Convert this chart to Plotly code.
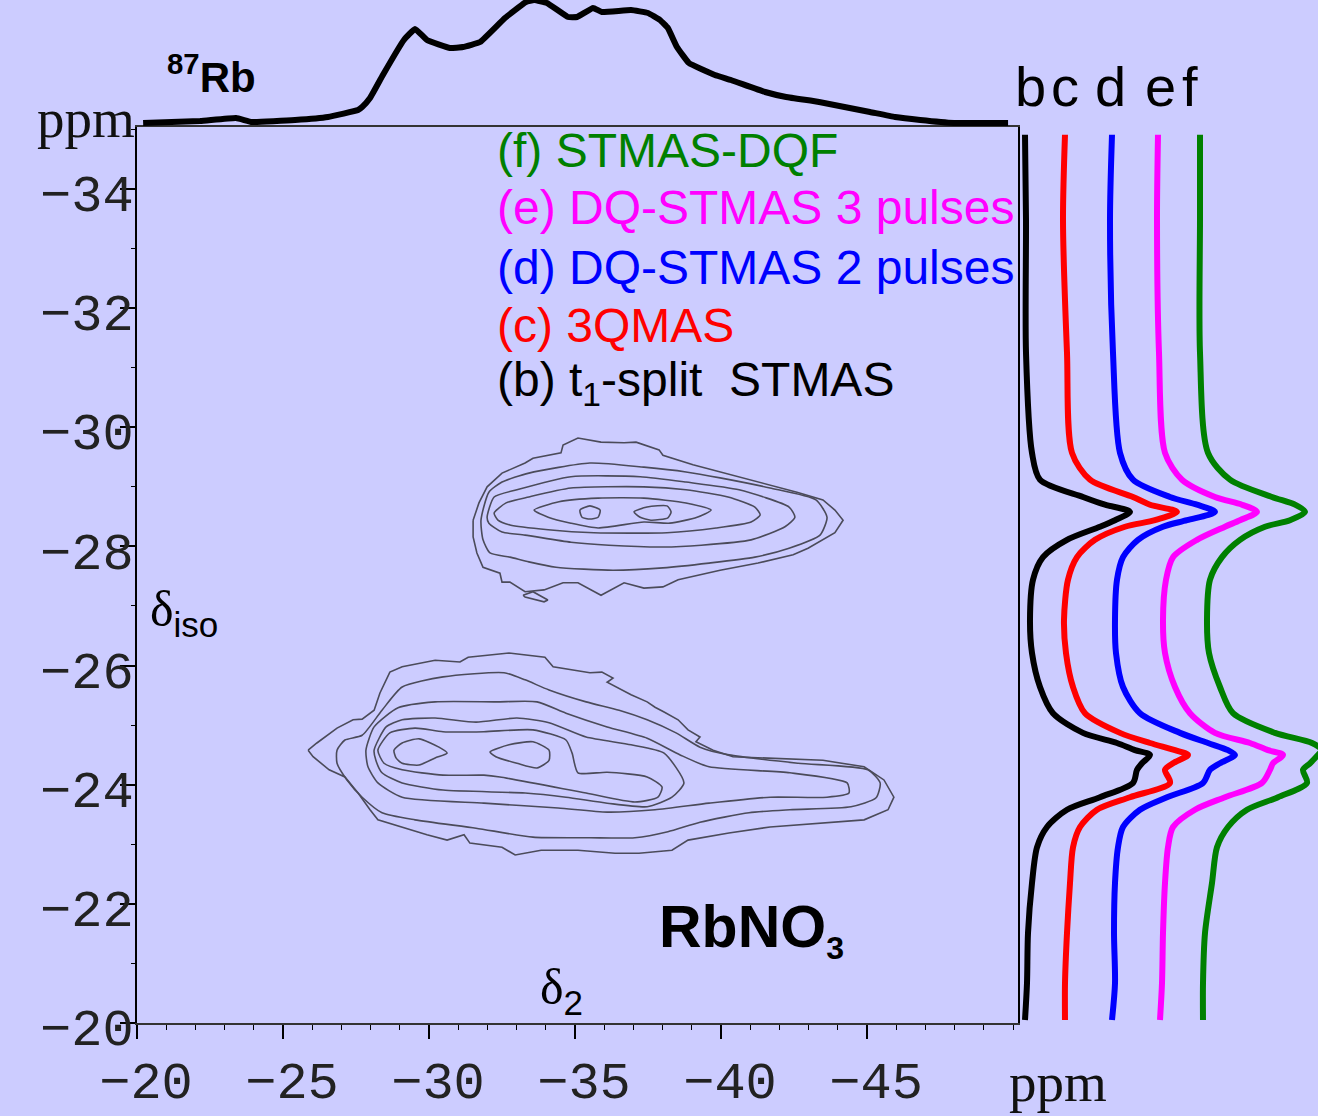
import plotly.graph_objects as go

W, H = 1318, 1116
BG = "#ccccff"

# ---------------- data ----------------
# top 1D projection along delta2 (ppm) / intensity (a.u.)
top_ppm = [-20.21, -22.16, -23.39, -23.94, -25.41, -26.54, -27.57, -27.71, -27.98, -28.42,
           -29.14, -29.52, -29.93, -30.72, -31.16, -31.75, -32.60, -33.32, -33.60, -34.04,
           -34.76, -35.07, -35.62, -35.92, -36.92, -37.50, -37.91, -38.18, -38.49, -38.90,
           -39.79, -40.34, -41.51, -42.23, -43.36, -45.10, -45.96, -46.82, -47.98, -49.83]
top_int = [0, 2, 5, 1, 3, 6, 13, 16, 25, 48,
           83, 94, 83, 75, 76, 81, 105, 121, 123, 120,
           106, 106, 115, 111, 113, 110, 103, 95, 76, 60,
           48, 43, 31, 26, 21, 11, 6, 3, 0, 0]

# isotropic projections (delta_iso, ppm) for the five experiments
iso_ppm = [-34.91, -33.48, -31.25, -29.57, -29.12, -28.83, -28.70, -28.58, -28.44, -28.33,
           -28.11, -27.82, -27.44, -26.77, -26.21, -25.64, -25.20, -24.87, -24.70, -24.58,
           -24.50, -24.36, -24.25, -24.03, -23.79, -23.58, -23.29, -22.95, -22.35, -21.51,
           -20.67, -20.05]
int_b = [-1, 0, 0, 6, 14, 57, 79, 104, 89, 74, 41, 17, 7, 4, 6, 14, 27, 57, 91, 109,
         124, 116, 111, 107, 74, 41, 21, 11, 6, 2, 1, -1]
int_c = [0, -2, 2, 7, 25, 68, 85, 112, 90, 60, 30, 12, 3, -1, 1, 8, 20, 55, 85, 110,
         123, 108, 100, 105, 65, 32, 15, 8, 5, 2, 0, 0]
int_d = [0, -2, 1, 8, 21, 58, 85, 103, 75, 51, 26, 11, 5, 3, 4, 11, 28, 68, 96, 116,
         123, 108, 98, 91, 55, 28, 11, 6, 3, 2, 3, 0]
int_e = [0, -1, 1, 7, 24, 57, 84, 99, 82, 67, 39, 15, 8, 5, 7, 17, 32, 57, 92, 110,
         125, 115, 112, 104, 67, 37, 15, 10, 7, 5, 4, 2]
int_f = [-1, -1, -1, 7, 29, 71, 94, 104, 89, 64, 39, 21, 9, 6, 8, 19, 32, 74, 111, 121,
         117, 109, 102, 106, 77, 46, 27, 16, 11, 4, 2, 2]
proj_labels = ["b", "c", "d", "e", "f"]
proj_names = ["(b) t1-split STMAS", "(c) 3QMAS", "(d) DQ-STMAS 2 pulses",
              "(e) DQ-STMAS 3 pulses", "(f) STMAS-DQF"]
proj_offsets = [8, 47, 94, 140, 183]

# 2D contour lines (delta2, delta_iso) in ppm -- upper site
up1_x = [-31.51, -31.71, -31.99, -32.50, -33.29, -33.56, -34.52, -34.59, -35.10, -35.89, -36.68,
         -37.09, -37.88, -38.01, -39.04, -39.97, -41.27, -42.60, -43.49, -43.90, -44.18, -43.90,
         -42.98, -42.47, -41.27, -39.97, -38.53, -38.01, -37.36, -36.68, -35.89, -35.10, -34.59,
         -33.94, -33.29, -32.77, -32.50, -32.43, -31.85, -31.64, -31.51]
up1_y = [-28.44, -28.73, -29.00, -29.23, -29.40, -29.48, -29.57, -29.70, -29.82, -29.75, -29.74,
         -29.75, -29.62, -29.53, -29.37, -29.25, -29.08, -28.91, -28.78, -28.61, -28.44, -28.23,
         -27.97, -27.86, -27.72, -27.60, -27.44, -27.32, -27.30, -27.39, -27.18, -27.39, -27.39,
         -27.27, -27.24, -27.40, -27.40, -27.55, -27.65, -27.89, -28.16]
up_tail_x = [-33.22, -33.56, -34.07, -33.94, -33.29]
up_tail_y = [-27.18, -27.24, -27.10, -27.07, -27.15]
up2_x = [-31.78, -32.05, -32.50, -33.42, -35.51, -37.36, -38.80, -39.97, -41.68, -43.25, -43.63,
         -43.39, -42.33, -41.16, -39.59, -38.01, -36.30, -34.35, -33.42, -32.77, -32.09, -31.85]
up2_y = [-28.44, -28.91, -29.08, -29.23, -29.40, -29.33, -29.25, -29.15, -28.98, -28.78, -28.49,
         -28.19, -27.97, -27.82, -27.72, -27.64, -27.60, -27.65, -27.74, -27.82, -27.89, -28.11]
up3_x = [-31.99, -32.23, -33.01, -34.86, -37.23, -38.80, -40.62, -42.33, -42.53, -42.19, -41.03,
         -39.32, -38.01, -36.16, -34.86, -33.29, -32.50, -32.05]
up3_y = [-28.49, -28.83, -28.95, -29.17, -29.17, -29.08, -28.95, -28.66, -28.49, -28.33, -28.11,
         -28.02, -27.99, -28.02, -28.07, -28.19, -28.24, -28.39]
up4_x = [-32.23, -32.64, -33.42, -34.86, -37.36, -38.80, -40.24, -41.16, -41.34, -41.03, -39.83,
         -38.15, -35.65, -34.08, -32.77, -32.36]
up4_y = [-28.56, -28.73, -28.83, -28.98, -29.00, -28.95, -28.83, -28.66, -28.53, -28.41, -28.31,
         -28.23, -28.23, -28.28, -28.36, -28.44]
up5_x = [-33.60, -34.45, -35.79, -37.36, -38.80, -39.66, -39.18, -38.25, -37.36, -35.79, -34.86,
         -34.08]
up5_y = [-28.61, -28.75, -28.81, -28.81, -28.73, -28.61, -28.49, -28.39, -28.41, -28.31, -28.39,
         -28.49]
up6a_x = [-35.17, -35.51, -35.86, -35.79, -35.51, -35.24]
up6a_y = [-28.61, -28.68, -28.61, -28.49, -28.46, -28.49]
up6b_x = [-37.02, -37.47, -38.15, -38.29, -38.18, -37.60, -37.23]
up6b_y = [-28.58, -28.66, -28.68, -28.58, -28.48, -28.44, -28.49]

# lower site
lo1_x = [-25.86, -26.16, -26.85, -27.40, -27.71, -28.12, -28.32, -28.66, -29.08, -30.21, -31.06,
         -31.34, -32.74, -33.97, -34.25, -35.51, -35.92, -36.30, -36.10, -36.92, -37.47, -37.74,
         -38.05, -38.53, -38.87, -39.28, -39.14, -39.73, -40.41, -43.49, -44.90, -45.58, -45.92,
         -45.72, -44.90, -43.49, -41.68, -40.27, -38.87, -38.32, -37.19, -36.37, -35.10, -33.84,
         -32.95, -32.50, -31.40, -31.20, -30.62, -29.93, -29.08, -28.25, -27.98, -27.57, -27.12,
         -26.58, -26.03]
lo1_y = [-24.58, -24.70, -24.95, -25.09, -25.10, -25.25, -25.54, -25.89, -25.98, -26.09, -26.06,
         -26.14, -26.21, -26.14, -25.98, -25.88, -25.89, -25.79, -25.72, -25.51, -25.39, -25.30,
         -25.22, -25.09, -24.92, -24.80, -24.72, -24.58, -24.47, -24.41, -24.30, -24.08, -23.79,
         -23.58, -23.41, -23.36, -23.29, -23.19, -23.07, -22.90, -22.85, -22.85, -22.90, -22.90,
         -22.82, -22.95, -23.02, -23.16, -23.07, -23.16, -23.29, -23.41, -23.58, -23.86, -24.13,
         -24.25, -24.47]
lo2_x = [-26.85, -27.12, -27.71, -28.39, -29.08, -30.48, -32.57, -33.29, -34.11, -35.38, -36.51,
         -37.47, -38.46, -39.28, -40.27, -42.64, -45.03, -45.45, -45.31, -44.45, -42.36, -40.96,
         -39.28, -38.18, -37.05, -35.51, -33.56, -31.61, -29.52, -28.39, -27.71, -27.19, -26.85]
lo2_y = [-24.58, -24.75, -24.83, -25.25, -25.64, -25.81, -25.88, -25.76, -25.59, -25.39, -25.25,
         -25.09, -24.87, -24.63, -24.50, -24.36, -24.25, -24.03, -23.78, -23.63, -23.58, -23.53,
         -23.37, -23.21, -23.11, -23.11, -23.12, -23.27, -23.41, -23.53, -23.79, -24.08, -24.36]
lo3_x = [-27.84, -28.12, -28.94, -30.21, -32.29, -33.70, -34.69, -36.10, -37.47, -38.60, -39.59,
         -42.36, -44.32, -44.38, -43.63, -41.68, -39.59, -37.74, -36.10, -34.42, -31.88, -29.08,
         -28.25, -27.91]
lo3_y = [-24.58, -24.97, -25.29, -25.39, -25.39, -25.39, -25.20, -24.97, -24.78, -24.50, -24.30,
         -24.20, -24.03, -23.86, -23.79, -23.79, -23.69, -23.58, -23.54, -23.61, -23.69, -23.79,
         -24.03, -24.30]
lo4_x = [-28.12, -28.53, -29.08, -30.21, -31.61, -33.01, -34.11, -35.38, -36.92, -38.05, -38.73,
         -38.32, -37.47, -36.10, -34.69, -33.29, -30.48, -29.08, -28.39, -28.18]
lo4_y = [-24.58, -24.97, -25.09, -25.12, -25.05, -25.12, -25.04, -24.80, -24.67, -24.53, -24.03,
         -23.79, -23.63, -23.69, -23.79, -23.86, -23.91, -24.03, -24.20, -24.41]
lo5_x = [-28.25, -28.66, -29.52, -30.48, -31.88, -33.56, -34.69, -34.90, -35.10, -36.10, -37.47,
         -37.98, -37.84, -37.05, -35.38, -32.43, -31.88, -30.48, -29.08, -28.46]
lo5_y = [-24.58, -24.87, -24.95, -24.89, -24.89, -24.92, -24.75, -24.53, -24.20, -24.21, -24.13,
         -23.96, -23.79, -23.71, -23.86, -24.13, -24.16, -24.16, -24.25, -24.36]
lo6a_x = [-28.80, -29.08, -29.66, -30.34, -30.62, -30.21, -29.66, -29.08, -28.87]
lo6a_y = [-24.58, -24.70, -24.77, -24.63, -24.53, -24.45, -24.33, -24.36, -24.45]
lo6b_x = [-32.09, -32.74, -33.56, -34.11, -34.11, -33.70, -33.01, -32.29]
lo6b_y = [-24.55, -24.67, -24.72, -24.58, -24.41, -24.28, -24.36, -24.47]

x_ticks = [-20, -25, -30, -35, -40, -45]

# ---------------- figure ----------------
def pxx(x):
    return x / W


def pxy(y):
    return 1 - y / H


fig = go.Figure()

CONT_COLOR = "#4b4b5a"
contours = [
    (up1_x, up1_y, "linear"), (up_tail_x, up_tail_y, "linear"), (up2_x, up2_y, "spline"),
    (up3_x, up3_y, "spline"), (up4_x, up4_y, "spline"), (up5_x, up5_y, "spline"),
    (up6a_x, up6a_y, "spline"), (up6b_x, up6b_y, "spline"),
    (lo1_x, lo1_y, "linear"), (lo2_x, lo2_y, "spline"), (lo3_x, lo3_y, "spline"),
    (lo4_x, lo4_y, "spline"), (lo5_x, lo5_y, "spline"), (lo6a_x, lo6a_y, "spline"),
    (lo6b_x, lo6b_y, "spline"),
]
for cx, cy, shape in contours:
    fig.add_trace(go.Scatter(
        x=list(cx) + [cx[0]], y=list(cy) + [cy[0]], mode="lines",
        line=dict(color=CONT_COLOR, width=1.6, shape=shape, smoothing=0.6),
        hoverinfo="skip", showlegend=False, xaxis="x", yaxis="y"))

# top projection
fig.add_trace(go.Scatter(
    x=top_ppm, y=top_int, mode="lines",
    line=dict(color="black", width=6, shape="spline", smoothing=0.3),
    showlegend=False, xaxis="x", yaxis="y3"))

# right projections
proj_colors = ["black", "#ff0000", "#0000ff", "#ff00ff", "#008000"]
for ints, off, col, name in zip([int_b, int_c, int_d, int_e, int_f], proj_offsets,
                                proj_colors, proj_names):
    fig.add_trace(go.Scatter(
        x=[off + v for v in ints], y=iso_ppm, mode="lines", name=name,
        line=dict(color=col, width=6, shape="spline", smoothing=0.8),
        showlegend=False, xaxis="x2", yaxis="y"))

TICKFONT = dict(family="Liberation Mono, Courier New, monospace", size=52, color="#222222")

fig.update_layout(
    width=W, height=H,
    margin=dict(l=0, r=0, t=0, b=0, pad=0, autoexpand=False),
    paper_bgcolor=BG, plot_bgcolor=BG,
    showlegend=False,
    xaxis=dict(
        domain=[137 / W, 1018 / W], range=[-20, -50.17], anchor="y", automargin=False,
        tickmode="array", tickvals=x_ticks, tickfont=TICKFONT,
        ticks="outside", ticklen=14, tickwidth=1.5, tickcolor="black",
        minor=dict(dtick=1, tick0=-20, ticks="outside", ticklen=5, tickwidth=1.2, tickcolor="black"),
        showline=True, linecolor="#333333", linewidth=1.5, mirror=True,
        showgrid=False, zeroline=False, ticklabelstandoff=-3, ticklabelshift=-9,
    ),
    yaxis=dict(
        domain=[(H - 1023) / H, (H - 127) / H], range=[-20, -35.04], anchor="x", automargin=False,
        tick0=-20, dtick=2, tickfont=TICKFONT,
        ticks="outside", ticklen=15, tickwidth=1.5, tickcolor="black",
        minor=dict(dtick=1, tick0=-20, ticks="outside", ticklen=4, tickwidth=1.2, tickcolor="black"),
        showline=True, linecolor="black", linewidth=2, mirror=True,
        showgrid=False, zeroline=False, ticklabelstandoff=-24, ticklabelshift=-4,
    ),
    xaxis2=dict(domain=[1018 / W, 1.0], range=[0, 300], anchor="y", visible=False,
                automargin=False),
    yaxis3=dict(domain=[(H - 127) / H, 1.0], range=[-4, 123], anchor="x", visible=False,
                automargin=False),
)

ann = []
SANS = "Liberation Sans, Arial, sans-serif"
SERIF = "Liberation Serif, Times New Roman, serif"

# ppm labels
ann.append(dict(x=pxx(86), y=pxy(118), text="ppm",
                font=dict(family=SERIF, size=55, color="#111111")))
ann.append(dict(x=pxx(1058), y=pxy(1082), text="ppm",
                font=dict(family=SERIF, size=55, color="#111111")))
# 87Rb
ann.append(dict(x=pxx(212), y=pxy(74), text="<b><sup>87</sup>Rb</b>",
                font=dict(family=SANS, size=42, color="black")))
# projection letters
for lab, xc in zip(proj_labels, [1030, 1065, 1110, 1160, 1190]):
    ann.append(dict(x=pxx(xc), y=pxy(86), text=lab,
                    font=dict(family=SANS, size=56, color="black")))
# legend-like list
legend_rows = [
    ("(f) STMAS-DQF", "#008000", 150),
    ("(e) DQ-STMAS 3 pulses", "#ff00ff", 208),
    ("(d) DQ-STMAS 2 pulses", "#0000ff", 267),
    ("(c) 3QMAS", "#ff0000", 325),
    ("(b) t<sub>1</sub>-split\u00a0\u00a0STMAS", "black", 383),
]
for txt, col, yc in legend_rows:
    ann.append(dict(x=pxx(495), y=pxy(yc), text=txt, xanchor="left",
                    font=dict(family=SANS, size=48, color=col)))
# axis symbols
ann.append(dict(x=pxx(148), y=pxy(612), xanchor="left",
                text="δ<sub><span style='font-family:Liberation Sans'>iso</span></sub>",
                font=dict(family=SERIF, size=50, color="black")))
ann.append(dict(x=pxx(538), y=pxy(990), xanchor="left",
                text="δ<sub><span style='font-family:Liberation Sans'>2</span></sub>",
                font=dict(family=SERIF, size=50, color="black")))
ann.append(dict(x=pxx(657), y=pxy(930), xanchor="left",
                text="<b>RbNO<sub><span style='font-size:32px'>3</span></sub></b>",
                font=dict(family=SANS, size=59, color="black")))

for a in ann:
    a.setdefault("xanchor", "center")
    a.update(xref="paper", yref="paper", showarrow=False, yanchor="middle")
fig.update_layout(annotations=ann)

fig.write_html(
    "out.html",
    config={"displayModeBar": False},
    post_script="document.body.style.margin='0';document.body.style.background='#ccccff';",
)
